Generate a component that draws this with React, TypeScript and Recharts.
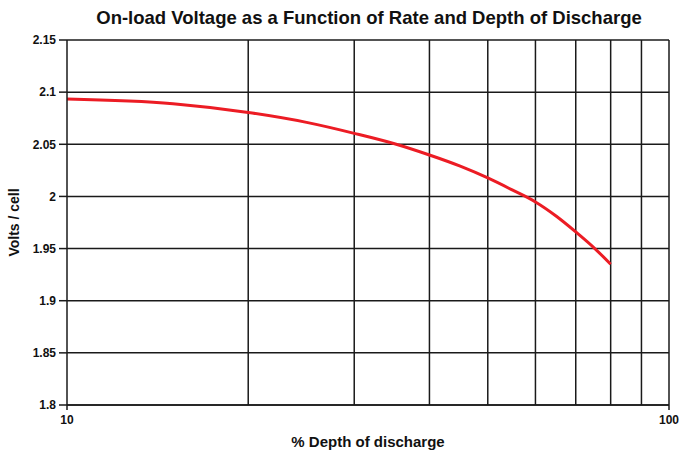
import React from 'react';
import { LineChart, Line, XAxis, YAxis, CartesianGrid, ReferenceLine } from 'recharts';

// % depth of discharge and on-load volts per cell
const depth = [10, 15, 20, 25, 30, 35, 40, 45, 50, 55, 60, 65, 70, 75, 80];
const volts = [2.0934, 2.0889, 2.0805, 2.071, 2.0605, 2.0505, 2.0397, 2.029, 2.0177, 2.006, 1.9947, 1.981, 1.966, 1.951, 1.935];

const xTicks = [10, 100];
const xGrid = [20, 30, 40, 50, 60, 70, 80, 90, 100];
const yTicks = [1.8, 1.85, 1.9, 1.95, 2, 2.05, 2.1, 2.15];

const font = 'Liberation Sans, Arial, Helvetica, sans-serif';
const gridColor = '#1a1a1a';

const App: React.FC = () => {
  const data = depth.map((d, i) => ({ depth: d, volts: volts[i] }));

  return (
    <div style={{ position: 'absolute', left: 0, top: 0, width: 684, height: 450, background: '#fff', fontFamily: font }}>
      <div style={{ position: 'absolute', left: 0, width: 738, top: 7, textAlign: 'center', fontSize: 18.5, lineHeight: '22px', fontWeight: 'bold', color: '#111' }}>
        On-load Voltage as a Function of Rate and Depth of Discharge
      </div>
      <LineChart width={684} height={450} data={data} margin={{ top: 40, right: 15, left: 0, bottom: 0 }}>
        <CartesianGrid vertical={false} stroke={gridColor} strokeWidth={1.5} strokeDasharray="" />
        {xGrid.map(x => (
          <ReferenceLine key={x} x={x} stroke={gridColor} strokeWidth={1.5} ifOverflow="extendDomain" />
        ))}
        <XAxis
          dataKey="depth"
          type="number"
          scale="log"
          domain={[10, 100]}
          ticks={xTicks}
          allowDataOverflow
          height={45}
          tickSize={5}
          tickMargin={5}
          stroke={gridColor}
          strokeWidth={1.5}
          tick={{ fontSize: 12, fontWeight: 'bold', fill: '#111', fontFamily: font }}
          label={{ value: '% Depth of discharge', position: 'insideBottom', offset: 3, fontSize: 15, fontWeight: 'bold', fill: '#111', fontFamily: font }}
        />
        <YAxis
          type="number"
          domain={[1.8, 2.15]}
          ticks={yTicks}
          width={67}
          tickSize={8}
          tickMargin={3}
          stroke={gridColor}
          strokeWidth={1.5}
          tick={{ fontSize: 12, fontWeight: 'bold', fill: '#111', fontFamily: font }}
          label={{ value: 'Volts / cell', angle: -90, position: 'insideLeft', offset: 14, fontSize: 14, fontWeight: 'bold', fill: '#111', fontFamily: font, style: { textAnchor: 'middle' } }}
        />
        <Line
          type="monotone"
          dataKey="volts"
          stroke="#ec1c24"
          strokeWidth={3}
          dot={false}
          isAnimationActive={false}
        />
      </LineChart>
    </div>
  );
};

export default App;
